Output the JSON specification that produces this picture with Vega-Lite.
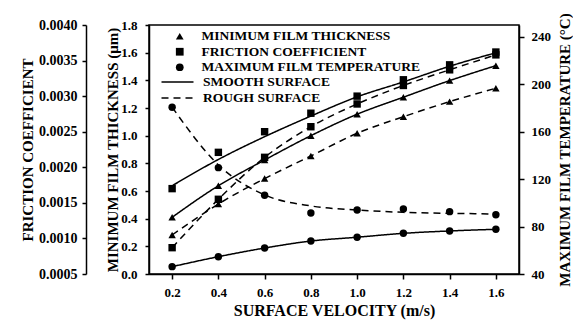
{
  "$schema": "https://vega.github.io/schema/vega-lite/v6.json",
  "width": 370,
  "height": 249,
  "autosize": {"type": "none"},
  "padding": {"left": 149, "top": 25, "right": 54, "bottom": 51},
  "background": "white",
  "config": {
    "view": {"stroke": "black", "strokeWidth": 1.5},
    "font": "Liberation Serif",
    "axis": {
      "labelFont": "Liberation Serif", "labelFontWeight": "bold", "labelColor": "black", "labelFontSize": 13,
      "titleFont": "Liberation Serif", "titleFontWeight": "bold", "titleColor": "black", "titleFontSize": 15,
      "domainColor": "black", "tickColor": "black", "domainWidth": 1.5, "tickWidth": 1.5, "grid": false
    },
    "legend": {
      "labelFont": "Liberation Serif", "labelFontWeight": "bold", "labelFontSize": 13.5, "labelColor": "black",
      "padding": 0, "titlePadding": 0, "labelLimit": 400
    }
  },
  "data": {"values": [
    {"v": 0.2, "m": "MINIMUM FILM THICKNESS", "s": "SMOOTH SURFACE", "val": 0.41, "fit": 0.41},
    {"v": 0.4, "m": "MINIMUM FILM THICKNESS", "s": "SMOOTH SURFACE", "val": 0.638, "fit": 0.638},
    {"v": 0.6, "m": "MINIMUM FILM THICKNESS", "s": "SMOOTH SURFACE", "val": 0.824, "fit": 0.824},
    {"v": 0.8, "m": "MINIMUM FILM THICKNESS", "s": "SMOOTH SURFACE", "val": 1.0, "fit": 1.0},
    {"v": 1.0, "m": "MINIMUM FILM THICKNESS", "s": "SMOOTH SURFACE", "val": 1.155, "fit": 1.155},
    {"v": 1.2, "m": "MINIMUM FILM THICKNESS", "s": "SMOOTH SURFACE", "val": 1.278, "fit": 1.278},
    {"v": 1.4, "m": "MINIMUM FILM THICKNESS", "s": "SMOOTH SURFACE", "val": 1.398, "fit": 1.398},
    {"v": 1.6, "m": "MINIMUM FILM THICKNESS", "s": "SMOOTH SURFACE", "val": 1.506, "fit": 1.506},
    {"v": 0.2, "m": "MINIMUM FILM THICKNESS", "s": "ROUGH SURFACE", "val": 0.282, "fit": 0.282},
    {"v": 0.4, "m": "MINIMUM FILM THICKNESS", "s": "ROUGH SURFACE", "val": 0.506, "fit": 0.506},
    {"v": 0.6, "m": "MINIMUM FILM THICKNESS", "s": "ROUGH SURFACE", "val": 0.69, "fit": 0.69},
    {"v": 0.8, "m": "MINIMUM FILM THICKNESS", "s": "ROUGH SURFACE", "val": 0.853, "fit": 0.853},
    {"v": 1.0, "m": "MINIMUM FILM THICKNESS", "s": "ROUGH SURFACE", "val": 1.017, "fit": 1.017},
    {"v": 1.2, "m": "MINIMUM FILM THICKNESS", "s": "ROUGH SURFACE", "val": 1.137, "fit": 1.137},
    {"v": 1.4, "m": "MINIMUM FILM THICKNESS", "s": "ROUGH SURFACE", "val": 1.246, "fit": 1.246},
    {"v": 1.6, "m": "MINIMUM FILM THICKNESS", "s": "ROUGH SURFACE", "val": 1.343, "fit": 1.343},
    {"v": 0.2, "m": "FRICTION COEFFICIENT", "s": "SMOOTH SURFACE", "val": 0.00170, "fit": 0.00174},
    {"v": 0.4, "m": "FRICTION COEFFICIENT", "s": "SMOOTH SURFACE", "val": 0.00221, "fit": 0.00211},
    {"v": 0.6, "m": "FRICTION COEFFICIENT", "s": "SMOOTH SURFACE", "val": 0.00250, "fit": 0.00243},
    {"v": 0.8, "m": "FRICTION COEFFICIENT", "s": "SMOOTH SURFACE", "val": 0.00276, "fit": 0.00272},
    {"v": 1.0, "m": "FRICTION COEFFICIENT", "s": "SMOOTH SURFACE", "val": 0.00300, "fit": 0.00299},
    {"v": 1.2, "m": "FRICTION COEFFICIENT", "s": "SMOOTH SURFACE", "val": 0.00323, "fit": 0.00320},
    {"v": 1.4, "m": "FRICTION COEFFICIENT", "s": "SMOOTH SURFACE", "val": 0.00344, "fit": 0.00342},
    {"v": 1.6, "m": "FRICTION COEFFICIENT", "s": "SMOOTH SURFACE", "val": 0.00362, "fit": 0.00361},
    {"v": 0.2, "m": "FRICTION COEFFICIENT", "s": "ROUGH SURFACE", "val": 0.00087, "fit": 0.00087},
    {"v": 0.4, "m": "FRICTION COEFFICIENT", "s": "ROUGH SURFACE", "val": 0.00155, "fit": 0.00155},
    {"v": 0.6, "m": "FRICTION COEFFICIENT", "s": "ROUGH SURFACE", "val": 0.00214, "fit": 0.00214},
    {"v": 0.8, "m": "FRICTION COEFFICIENT", "s": "ROUGH SURFACE", "val": 0.00257, "fit": 0.00257},
    {"v": 1.0, "m": "FRICTION COEFFICIENT", "s": "ROUGH SURFACE", "val": 0.00289, "fit": 0.00289},
    {"v": 1.2, "m": "FRICTION COEFFICIENT", "s": "ROUGH SURFACE", "val": 0.00315, "fit": 0.00315},
    {"v": 1.4, "m": "FRICTION COEFFICIENT", "s": "ROUGH SURFACE", "val": 0.00337, "fit": 0.00337},
    {"v": 1.6, "m": "FRICTION COEFFICIENT", "s": "ROUGH SURFACE", "val": 0.00358, "fit": 0.00358},
    {"v": 0.2, "m": "MAXIMUM FILM TEMPERATURE", "s": "SMOOTH SURFACE", "val": 46.2, "fit": 46.2},
    {"v": 0.4, "m": "MAXIMUM FILM TEMPERATURE", "s": "SMOOTH SURFACE", "val": 54.6, "fit": 54.6},
    {"v": 0.6, "m": "MAXIMUM FILM TEMPERATURE", "s": "SMOOTH SURFACE", "val": 61.9, "fit": 61.9},
    {"v": 0.8, "m": "MAXIMUM FILM TEMPERATURE", "s": "SMOOTH SURFACE", "val": 67.8, "fit": 67.8},
    {"v": 1.0, "m": "MAXIMUM FILM TEMPERATURE", "s": "SMOOTH SURFACE", "val": 71.0, "fit": 71.0},
    {"v": 1.2, "m": "MAXIMUM FILM TEMPERATURE", "s": "SMOOTH SURFACE", "val": 74.3, "fit": 74.3},
    {"v": 1.4, "m": "MAXIMUM FILM TEMPERATURE", "s": "SMOOTH SURFACE", "val": 76.3, "fit": 76.3},
    {"v": 1.6, "m": "MAXIMUM FILM TEMPERATURE", "s": "SMOOTH SURFACE", "val": 77.7, "fit": 77.7},
    {"v": 0.2, "m": "MAXIMUM FILM TEMPERATURE", "s": "ROUGH SURFACE", "val": 180.7, "fit": 180.7},
    {"v": 0.4, "m": "MAXIMUM FILM TEMPERATURE", "s": "ROUGH SURFACE", "val": 129.7, "fit": 132.0},
    {"v": 0.6, "m": "MAXIMUM FILM TEMPERATURE", "s": "ROUGH SURFACE", "val": 106.4, "fit": 106.7},
    {"v": 0.8, "m": "MAXIMUM FILM TEMPERATURE", "s": "ROUGH SURFACE", "val": 91.5, "fit": 97.4},
    {"v": 1.0, "m": "MAXIMUM FILM TEMPERATURE", "s": "ROUGH SURFACE", "val": 94.0, "fit": 94.0},
    {"v": 1.2, "m": "MAXIMUM FILM TEMPERATURE", "s": "ROUGH SURFACE", "val": 94.9, "fit": 92.0},
    {"v": 1.4, "m": "MAXIMUM FILM TEMPERATURE", "s": "ROUGH SURFACE", "val": 92.6, "fit": 91.2},
    {"v": 1.6, "m": "MAXIMUM FILM TEMPERATURE", "s": "ROUGH SURFACE", "val": 90.0, "fit": 90.6}
  ]},
  "encoding": {
    "x": {
      "field": "v", "type": "quantitative",
      "scale": {"domain": [0.1, 1.7], "nice": false, "zero": false},
      "axis": {"values": [0.2, 0.4, 0.6, 0.8, 1.0, 1.2, 1.4, 1.6], "format": ".1f", "title": "SURFACE VELOCITY (m/s)",
               "tickSize": 5, "labelPadding": 7, "titleFontSize": 16, "titleY": 41, "titleBaseline": "alphabetic"}
    }
  },
  "layer": [
    {
      "transform": [{"filter": "datum.m === 'MINIMUM FILM THICKNESS'"}],
      "layer": [
        {
          "mark": {"type": "line", "color": "black", "strokeWidth": 1.5, "interpolate": "monotone"},
          "encoding": {
            "y": {"field": "fit", "type": "quantitative", "scale": {"domain": [0, 1.8], "nice": false, "zero": false},
                  "axis": {"orient": "left", "values": [0, 0.2, 0.4, 0.6, 0.8, 1.0, 1.2, 1.4, 1.6, 1.8], "format": ".1f",
                           "title": "MINIMUM FILM THICKNESS (μm)", "tickSize": 4, "labelPadding": 8, "titleX": -32, "titleBaseline": "alphabetic"}},
            "strokeDash": {"field": "s", "type": "nominal",
                           "scale": {"domain": ["SMOOTH SURFACE", "ROUGH SURFACE"], "range": [[1, 0], [7, 5]]},
                           "legend": {"orient": "none", "legendX": 19.5, "legendY": 48, "title": null, "symbolType": "M-2,0H2", "rowPadding": 0,
                                      "symbolSize": 256, "symbolStrokeWidth": 1.5, "symbolStrokeColor": "black", "labelOffset": 16.5}}
          }
        },
        {
          "mark": {"type": "point", "filled": true, "color": "black", "size": 55, "opacity": 1},
          "encoding": {
            "y": {"field": "val", "type": "quantitative", "scale": {"domain": [0, 1.8], "nice": false, "zero": false},
                  "axis": {"orient": "left", "values": [0, 0.2, 0.4, 0.6, 0.8, 1.0, 1.2, 1.4, 1.6, 1.8], "format": ".1f",
                           "title": "MINIMUM FILM THICKNESS (μm)", "tickSize": 4, "labelPadding": 8, "titleX": -32, "titleBaseline": "alphabetic"}},
            "shape": {"field": "m", "type": "nominal",
                      "scale": {"domain": ["MINIMUM FILM THICKNESS", "FRICTION COEFFICIENT", "MAXIMUM FILM TEMPERATURE"], "range": ["triangle-up", "square", "circle"]},
                      "legend": {"orient": "none", "legendX": 24, "legendY": 4.5, "title": null, "symbolSize": 60, "rowPadding": 0.5,
                                 "symbolFillColor": "black", "symbolStrokeColor": "black", "labelOffset": 15}}
          }
        }
      ]
    },
    {
      "transform": [{"filter": "datum.m === 'FRICTION COEFFICIENT'"}],
      "layer": [
        {
          "mark": {"type": "line", "color": "black", "strokeWidth": 1.5, "interpolate": "monotone"},
          "encoding": {
            "y": {"field": "fit", "type": "quantitative", "scale": {"domain": [0.0005, 0.004], "nice": false, "zero": false},
                  "axis": {"orient": "left", "offset": 63, "values": [0.0005, 0.001, 0.0015, 0.002, 0.0025, 0.003, 0.0035, 0.004], "format": ".4f",
                           "title": "FRICTION COEFFICIENT", "tickSize": 4, "labelPadding": 5, "labelFontSize": 14, "titleX": -54, "titleBaseline": "alphabetic"}},
            "strokeDash": {"field": "s", "type": "nominal",
                           "scale": {"domain": ["SMOOTH SURFACE", "ROUGH SURFACE"], "range": [[1, 0], [7, 5]]},
                           "legend": {"orient": "none", "legendX": 19.5, "legendY": 48, "title": null, "symbolType": "M-2,0H2", "rowPadding": 0,
                                      "symbolSize": 256, "symbolStrokeWidth": 1.5, "symbolStrokeColor": "black", "labelOffset": 16.5}}
          }
        },
        {
          "mark": {"type": "point", "filled": true, "color": "black", "size": 55, "opacity": 1},
          "encoding": {
            "y": {"field": "val", "type": "quantitative", "scale": {"domain": [0.0005, 0.004], "nice": false, "zero": false},
                  "axis": {"orient": "left", "offset": 63, "values": [0.0005, 0.001, 0.0015, 0.002, 0.0025, 0.003, 0.0035, 0.004], "format": ".4f",
                           "title": "FRICTION COEFFICIENT", "tickSize": 4, "labelPadding": 5, "labelFontSize": 14, "titleX": -54, "titleBaseline": "alphabetic"}},
            "shape": {"field": "m", "type": "nominal",
                      "scale": {"domain": ["MINIMUM FILM THICKNESS", "FRICTION COEFFICIENT", "MAXIMUM FILM TEMPERATURE"], "range": ["triangle-up", "square", "circle"]},
                      "legend": {"orient": "none", "legendX": 24, "legendY": 4.5, "title": null, "symbolSize": 60, "rowPadding": 0.5,
                                 "symbolFillColor": "black", "symbolStrokeColor": "black", "labelOffset": 15}}
          }
        }
      ]
    },
    {
      "transform": [{"filter": "datum.m === 'MAXIMUM FILM TEMPERATURE'"}],
      "layer": [
        {
          "mark": {"type": "line", "color": "black", "strokeWidth": 1.5, "interpolate": "monotone"},
          "encoding": {
            "y": {"field": "fit", "type": "quantitative", "scale": {"domain": [40, 250], "nice": false, "zero": false},
                  "axis": {"orient": "right", "values": [40, 80, 120, 160, 200, 240], "format": "d",
                           "title": "MAXIMUM FILM TEMPERATURE (°C)", "tickSize": 5, "labelPadding": 7, "titleAngle": -90, "titleX": 50, "titleBaseline": "alphabetic"}},
            "strokeDash": {"field": "s", "type": "nominal",
                           "scale": {"domain": ["SMOOTH SURFACE", "ROUGH SURFACE"], "range": [[1, 0], [7, 5]]},
                           "legend": {"orient": "none", "legendX": 19.5, "legendY": 48, "title": null, "symbolType": "M-2,0H2", "rowPadding": 0,
                                      "symbolSize": 256, "symbolStrokeWidth": 1.5, "symbolStrokeColor": "black", "labelOffset": 16.5}}
          }
        },
        {
          "mark": {"type": "point", "filled": true, "color": "black", "size": 55, "opacity": 1},
          "encoding": {
            "y": {"field": "val", "type": "quantitative", "scale": {"domain": [40, 250], "nice": false, "zero": false},
                  "axis": {"orient": "right", "values": [40, 80, 120, 160, 200, 240], "format": "d",
                           "title": "MAXIMUM FILM TEMPERATURE (°C)", "tickSize": 5, "labelPadding": 7, "titleAngle": -90, "titleX": 50, "titleBaseline": "alphabetic"}},
            "shape": {"field": "m", "type": "nominal",
                      "scale": {"domain": ["MINIMUM FILM THICKNESS", "FRICTION COEFFICIENT", "MAXIMUM FILM TEMPERATURE"], "range": ["triangle-up", "square", "circle"]},
                      "legend": {"orient": "none", "legendX": 24, "legendY": 4.5, "title": null, "symbolSize": 60, "rowPadding": 0.5,
                                 "symbolFillColor": "black", "symbolStrokeColor": "black", "labelOffset": 15}}
          }
        }
      ]
    }
  ],
  "resolve": {"scale": {"y": "independent"}}
}
